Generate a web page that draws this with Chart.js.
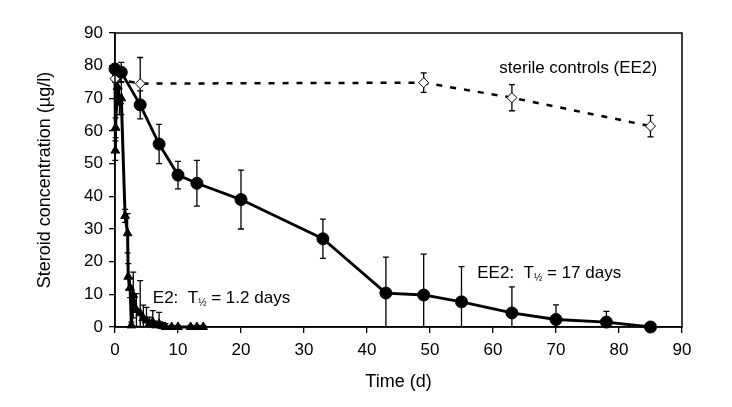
<!DOCTYPE html>
<html>
<head>
<meta charset="utf-8">
<script src="https://cdn.jsdelivr.net/npm/chart.js@4.4.0/dist/chart.umd.min.js"></script>
<style>
  html, body { margin: 0; padding: 0; background: #fff; }
  #wrap { width: 732px; height: 407px; }
</style>
</head>
<body>
<div id="wrap"><canvas id="chart"></canvas></div>
<script>
// EE2 with sludge (circles)
const ee2Time = [0, 1, 4, 7, 10, 13, 20, 33, 43, 49, 55, 63, 70, 78, 85];
const ee2Conc = [79, 78, 68, 56, 46.5, 44, 39, 27, 10.4, 9.8, 7.7, 4.3, 2.3, 1.5, 0];
const ee2Err  = [1.5, 3, 4.3, 6, 4.2, 7, 9, 6, 11, 12.5, 10.8, 8, 4.5, 3.3, 0];

// sterile controls (EE2) (diamonds, dashed)
const ctrlTime = [0, 4, 49, 63, 85];
const ctrlConc = [76, 74.5, 74.8, 70.2, 61.5];
const ctrlErr  = [1, 8, 3, 4, 3.3];

// E2 (triangles)
const e2Time = [0, 0.05, 0.1, 0.4, 0.7, 1, 1.6, 2, 2.1, 2.4, 2.6, 2.9, 3.4, 4, 4.5, 5, 5.5, 6, 6.5, 7, 7.5, 8, 9, 10, 12, 13, 14];
const e2Conc = [79, 54, 61, 73.5, 69, 70, 34, 28.7, 15.4, 12, 0.5, 9.8, 5.2, 4.2, 2.7, 2, 1, 1.5, 0.5, 1, 0.3, 0, 0, 0, 0, 0, 0];
const e2Err  = [1.5, 3, 3, 3, 4, 5, 2, 6, 4, 3, 1, 7, 5, 10, 4, 4, 2, 3.5, 1, 3.5, 1, 1, 0.5, 0.5, 0.5, 0.5, 0.5];

const xTicksMax = 90;
const yTicksMax = 90;

// annotation anchors (data units)
const ctrlLabel = { x: 61, y: 79.2, text: "sterile controls (EE2)" };
const ee2Label = { x: 57.5, y: 16.5, name: "EE2:  T", rest: " = 17 days" };
const e2Label = { x: 6, y: 8.9, name: "E2:  T", rest: " = 1.2 days" };

const FONT = "'Liberation Sans', Arial, sans-serif";

function toPoints(xs, ys) {
  return xs.map((x, i) => ({ x: x, y: ys[i] }));
}

const errorBars = {
  id: 'errorBars',
  beforeDatasetsDraw(chart) {
    const { ctx, scales: { x, y } } = chart;
    chart.data.datasets.forEach(ds => {
      if (!ds.errors) return;
      ctx.save();
      ctx.strokeStyle = '#000';
      ctx.lineWidth = 1.3;
      ds.data.forEach((p, j) => {
        const e = ds.errors[j];
        if (!e) return;
        const px = x.getPixelForValue(p.x);
        const top = y.getPixelForValue(p.y + e);
        const low = Math.max(0, p.y - e);
        const bot = y.getPixelForValue(low);
        ctx.beginPath();
        ctx.moveTo(px, top); ctx.lineTo(px, bot);
        ctx.moveTo(px - 3, top); ctx.lineTo(px + 3, top);
        if (low > 0) { ctx.moveTo(px - 3, bot); ctx.lineTo(px + 3, bot); }
        ctx.stroke();
      });
      ctx.restore();
    });
  }
};

function drawHalfLife(ctx, x, y, lab) {
  let px = x.getPixelForValue(lab.x);
  const py = y.getPixelForValue(lab.y);
  ctx.font = '17px ' + FONT;
  ctx.fillText(lab.name, px, py);
  px += ctx.measureText(lab.name).width;
  ctx.font = '10px ' + FONT;
  ctx.fillText('½', px, py + 5);
  px += ctx.measureText('½').width;
  ctx.font = '17px ' + FONT;
  ctx.fillText(lab.rest, px, py);
}

const frameAndLabels = {
  id: 'frameAndLabels',
  afterDraw(chart) {
    const { ctx, chartArea: a, scales: { x, y } } = chart;
    ctx.save();
    ctx.strokeStyle = '#000';
    ctx.lineWidth = 1.5;
    ctx.strokeRect(a.left, a.top, a.right - a.left, a.bottom - a.top);
    ctx.fillStyle = '#000';
    ctx.textBaseline = 'middle';
    ctx.textAlign = 'left';
    ctx.font = '17px ' + FONT;
    ctx.fillText(ctrlLabel.text, x.getPixelForValue(ctrlLabel.x), y.getPixelForValue(ctrlLabel.y));
    drawHalfLife(ctx, x, y, ee2Label);
    drawHalfLife(ctx, x, y, e2Label);
    ctx.restore();
  }
};

new Chart(document.getElementById('chart').getContext('2d'), {
  type: 'scatter',
  data: {
    datasets: [
      {
        label: 'EE2',
        data: toPoints(ee2Time, ee2Conc),
        errors: ee2Err,
        showLine: true,
        borderColor: '#000',
        backgroundColor: '#000',
        borderWidth: 2.8,
        pointStyle: 'circle',
        pointRadius: 6,
        pointBorderWidth: 1,
        clip: false
      },
      {
        label: 'sterile controls (EE2)',
        data: toPoints(ctrlTime, ctrlConc),
        errors: ctrlErr,
        showLine: true,
        borderColor: '#000',
        backgroundColor: '#fff',
        borderWidth: 2.5,
        borderDash: [6, 8],
        pointStyle: 'rectRot',
        pointRadius: 5,
        pointBorderWidth: 1,
        pointBorderColor: '#000',
        pointBackgroundColor: '#fff',
        clip: false
      },
      {
        label: 'E2',
        data: toPoints(e2Time, e2Conc),
        errors: e2Err,
        showLine: true,
        borderColor: '#000',
        backgroundColor: '#000',
        borderWidth: 3,
        pointStyle: 'triangle',
        pointRadius: 5,
        pointBorderWidth: 1,
        clip: false
      }
    ]
  },
  options: {
    responsive: true,
    maintainAspectRatio: false,
    animation: false,
    layout: { padding: { top: 33, right: 50, left: 0, bottom: 0 } },
    plugins: {
      legend: { display: false },
      tooltip: { enabled: false }
    },
    scales: {
      x: {
        type: 'linear',
        min: 0,
        max: xTicksMax,
        ticks: { stepSize: 10, padding: 7, color: '#000', font: { family: FONT, size: 17 } },
        grid: { display: true, drawOnChartArea: false, drawTicks: true, tickLength: 6, color: '#000', lineWidth: 1.3 },
        border: { display: true, color: '#000', width: 1.5 },
        title: { display: true, text: 'Time (d)', color: '#000', font: { family: FONT, size: 18 }, padding: { top: 0, bottom: 14 } },
        afterFit(scale) { scale.height = 80; }
      },
      y: {
        type: 'linear',
        min: 0,
        max: yTicksMax,
        ticks: { stepSize: 10, padding: 6, color: '#000', font: { family: FONT, size: 17 } },
        grid: { display: true, drawOnChartArea: false, drawTicks: true, tickLength: 6, color: '#000', lineWidth: 1.3 },
        border: { display: true, color: '#000', width: 1.5 },
        title: { display: true, text: 'Steroid concentration (µg/l)', color: '#000', font: { family: FONT, size: 18 }, padding: { top: 34, bottom: 0 } },
        afterFit(scale) { scale.width = 115; }
      }
    }
  },
  plugins: [errorBars, frameAndLabels]
});
</script>
</body>
</html>
